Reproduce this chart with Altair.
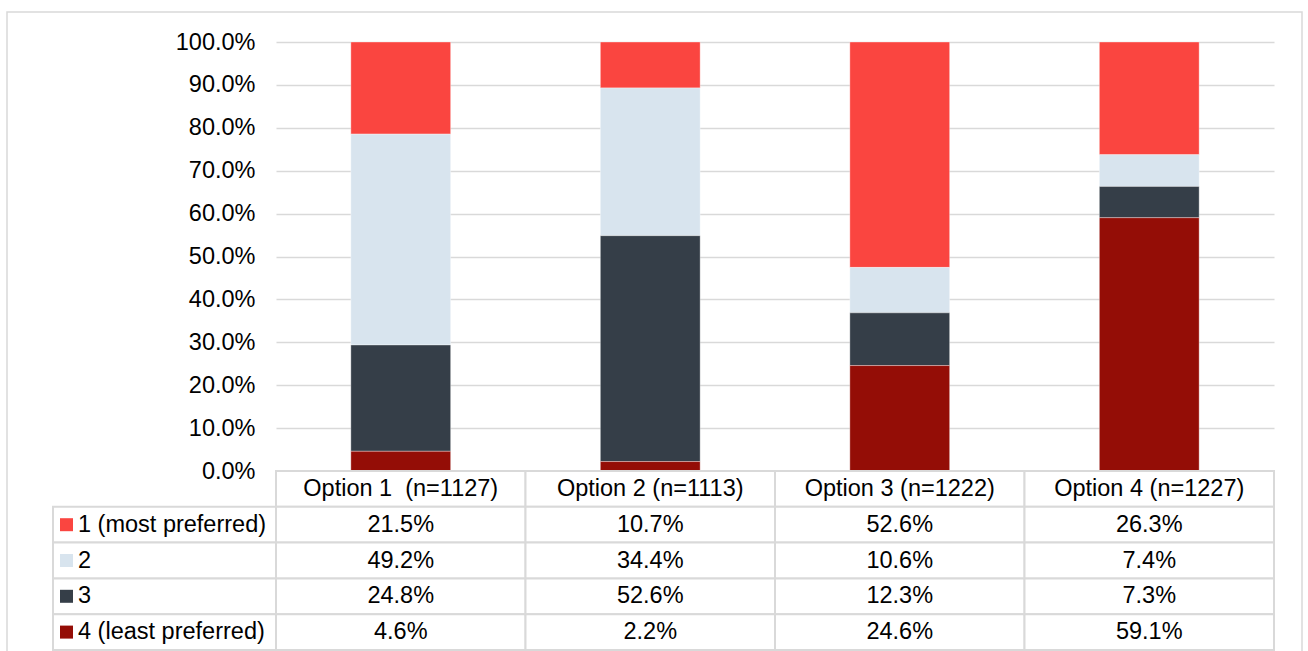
import altair as alt
import pandas as pd

options = ["Option 1\u00a0 (n=1127)", "Option 2 (n=1113)", "Option 3 (n=1222)", "Option 4 (n=1227)"]
ranks = ["1 (most preferred)", "2", "3", "4 (least preferred)"]
vals_r1 = [21.5, 10.7, 52.6, 26.3]
vals_r2 = [49.2, 34.4, 10.6, 7.4]
vals_r3 = [24.8, 52.6, 12.3, 7.3]
vals_r4 = [4.6, 2.2, 24.6, 59.1]
colors = ["#FA4540", "#D8E4EE", "#353E48", "#940D06"]
y_ticks = [i / 10 for i in range(11)]

series = [vals_r1, vals_r2, vals_r3, vals_r4]
FONT = "Liberation Sans"
FS = 23.5
GRID = "#D9D9D9"

bar_rows = []
for ri, (rank, vals) in enumerate(zip(ranks, series)):
    for opt, v in zip(options, vals):
        bar_rows.append({"option": opt, "rank": rank, "rank_num": ri + 1, "value": v})
bars_df = pd.DataFrame(bar_rows)

color_scale = alt.Scale(domain=ranks, range=colors)

top = alt.Chart(bars_df).mark_bar(stroke="white", strokeWidth=0.7, strokeOpacity=0.5).encode(
    x=alt.X("option:N", sort=options,
            scale=alt.Scale(domain=options, paddingInner=0.6, paddingOuter=0.3), axis=None),
    y=alt.Y("sum(value):Q", stack="normalize",
            scale=alt.Scale(domain=[0, 1], nice=False),
            axis=alt.Axis(values=y_ticks, labelExpr="format(datum.value, '.1%')", title=None,
                          domain=False, ticks=False,
                          labelFont=FONT, labelFontSize=FS, labelColor="#000000", labelPadding=21,
                          gridColor=GRID, gridWidth=1.5)),
    color=alt.Color("rank:N", scale=color_scale, legend=None),
    order=alt.Order("rank_num:Q", sort="descending"),
).properties(width=998, height=429)

# table
row_keys = ["header"] + ranks
cell_rows = []
for ci, opt in enumerate(options):
    cell_rows.append({"col": opt, "row": "header", "text": opt})
    for ri, rank in enumerate(ranks):
        cell_rows.append({"col": opt, "row": rank, "text": f"{series[ri][ci]:.1f}%"})
cells_df = pd.DataFrame(cell_rows)
label_df = pd.DataFrame({"row": ranks, "rank": ranks})

xs = alt.X("col:N", scale=alt.Scale(domain=options, paddingInner=0, paddingOuter=0), axis=None)
ys = alt.Y("row:N", scale=alt.Scale(domain=row_keys, paddingInner=0, paddingOuter=0), axis=None)

cells = alt.Chart(cells_df).mark_rect(fill="white", stroke=GRID, strokeWidth=2).encode(x=xs, y=ys)
cell_text = alt.Chart(cells_df).mark_text(font=FONT, fontSize=FS, color="#000000",
                                          align="center", baseline="middle").encode(
    x=xs, y=ys, text="text:N")
label_cells = alt.Chart(label_df).mark_rect(fill="white", stroke=GRID, strokeWidth=2).encode(
    x=alt.value(-223), x2=alt.value(0), y=ys)
label_text = alt.Chart(label_df).mark_text(font=FONT, fontSize=FS, color="#000000",
                                           align="left", baseline="middle").encode(
    x=alt.value(-198), y=ys, text="rank:N")
squares = alt.Chart(label_df).mark_point(shape="square", filled=True, opacity=1, size=169).encode(
    x=alt.value(-209.5), y=ys, color=alt.Color("rank:N", scale=color_scale, legend=None))
frame = alt.Chart(pd.DataFrame({"k": [0]})).mark_rect(fill=None, stroke=GRID, strokeWidth=1.5).encode(
    x=alt.value(-269), x2=alt.value(1026), y=alt.value(-459), y2=alt.value(181))

bottom = alt.layer(frame, cells, cell_text, label_cells, label_text, squares).properties(
    width=998, height=179)

chart = alt.vconcat(top, bottom, spacing=0, bounds="flush").properties(
    padding={"left": 6, "top": 11, "right": 4, "bottom": 0}
).configure_view(stroke=None)

chart.save("out.html", embed_options={"renderer": "svg", "actions": False})
